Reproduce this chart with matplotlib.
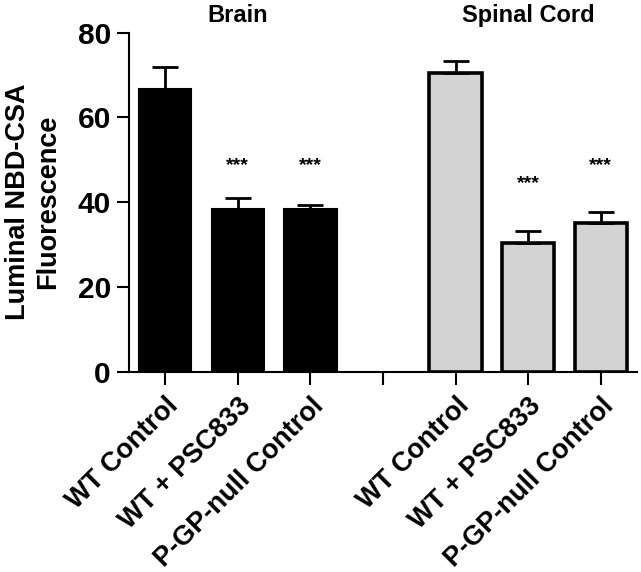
import numpy as np
import matplotlib
matplotlib.use("Agg")
import matplotlib.pyplot as plt

# DATA
groups = ["Brain", "Spinal Cord"]
conditions = ["WT Control", "WT + PSC833", "P-GP-null Control"]
brain_means = [66.7, 38.5, 38.4]
brain_err = [5.1, 2.6, 1.0]
spinal_means = [70.4, 30.4, 35.0]
spinal_err = [3.0, 2.8, 2.8]
# significance marks: (group index, condition index, height)
stars = [(0, 1, 48.7), (0, 2, 48.7), (1, 1, 44.5), (1, 2, 48.7)]

plt.rcParams["font.family"] = ["Liberation Sans", "DejaVu Sans"]
plt.rcParams["font.weight"] = "bold"

fig = plt.figure(figsize=(6.41, 5.72), dpi=100)
ax = fig.add_axes([0.201, 0.350, 0.793, 0.593])

# brain at 0,1,2 ; empty slot at 3 ; spinal cord at 4,5,6
x_brain = np.arange(len(conditions))
x_spinal = x_brain + len(conditions) + 1
width = 0.72

ax.bar(x_brain, brain_means, width, color="black", edgecolor="black", linewidth=1.5)
ax.errorbar(x_brain, brain_means, yerr=[np.zeros(3), brain_err], fmt="none",
            ecolor="black", elinewidth=2, capsize=9.5, capthick=2)

ax.bar(x_spinal, spinal_means, width, color="#d3d3d3", edgecolor="black", linewidth=2.6)
ax.errorbar(x_spinal, spinal_means, yerr=[np.zeros(3), spinal_err], fmt="none",
            ecolor="black", elinewidth=2, capsize=9.5, capthick=2)

xpos = [x_brain, x_spinal]
for g, c, h in stars:
    ax.text(xpos[g][c], h, "***", ha="center", va="center", fontsize=14, fontweight="bold")

# group titles
for g, name in enumerate(groups):
    ax.text(xpos[g][1], 1.05, name, transform=ax.get_xaxis_transform(),
            ha="center", va="center", fontsize=17, fontweight="bold")

ticks = list(x_brain) + [len(conditions)] + list(x_spinal)
ax.set_xticks(ticks)
ax.set_xticklabels(conditions + [""] + conditions, rotation=45, ha="right",
                   va="top", rotation_mode="anchor", fontsize=19.5, fontweight="bold")
ax.set_xlim(-0.5, 6.5)
ax.set_ylim(0, 80)
ax.set_yticks([0, 20, 40, 60, 80])
ax.tick_params(axis="y", labelsize=21.5, width=1.5, length=9, pad=4)
ax.tick_params(axis="x", width=1.5, length=9, pad=6)
for lab in ax.get_yticklabels():
    lab.set_fontweight("bold")

ax.set_ylabel("Luminal NBD-CSA\nFluorescence", fontsize=19.5, fontweight="bold",
              linespacing=1.2, labelpad=12)

ax.spines["top"].set_visible(False)
ax.spines["right"].set_visible(False)
ax.spines["left"].set_linewidth(1.5)
ax.spines["bottom"].set_linewidth(1.5)

fig.savefig("out.png", dpi=100)
